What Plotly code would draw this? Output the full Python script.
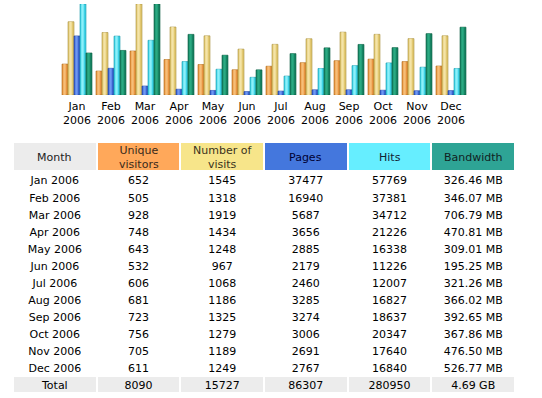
import plotly.graph_objects as go

months = ["Jan", "Feb", "Mar", "Apr", "May", "Jun", "Jul", "Aug", "Sep", "Oct", "Nov", "Dec"]
year = "2006"
visitors = [652, 505, 928, 748, 643, 532, 606, 681, 723, 756, 705, 611]
visits = [1545, 1318, 1919, 1434, 1248, 967, 1068, 1186, 1325, 1279, 1189, 1249]
pages = [37477, 16940, 5687, 3656, 2885, 2179, 2460, 3285, 3274, 3006, 2691, 2767]
hits = [57769, 37381, 34712, 21226, 16338, 11226, 12007, 16827, 18637, 20347, 17640, 16840]
bandwidth_mb = [326.46, 346.07, 706.79, 470.81, 309.01, 195.25, 321.26, 366.02, 392.65, 367.86, 476.50, 526.77]
total_labels = ["Total", "8090", "15727", "86307", "280950", "4.69 GB"]
headers = ["Month", "Unique<br>visitors", "Number of<br>visits", "Pages", "Hits", "Bandwidth"]

W, H = 542, 398
FONT = "DejaVu Sans"
CLEAR = "rgba(0,0,0,0)"

x = list(range(len(months)))
tick_text = [f"{m}<br>{year}" for m in months]

bw = 6 / 34
series = [
    (visitors, "y", "#E89440", "#F6BE78", "#A86818"),
    (visits, "y", "#E2C870", "#F4E4A8", "#A89040"),
    (pages, "y2", "#3A62D0", "#6E98F2", "#203E98"),
    (hits, "y2", "#3ED2E6", "#8CF0FA", "#1898A8"),
    (bandwidth_mb, "y3", "#178463", "#2BAA82", "#0C5A40"),
]

fig = go.Figure()
for i, (vals, ya, base, light, edge) in enumerate(series):
    off = -15 / 34 + i * bw
    fig.add_trace(go.Bar(x=x, y=vals, yaxis=ya, width=bw, offset=off,
                         marker=dict(color=base, line=dict(color=edge, width=0.6)),
                         hoverinfo="skip", showlegend=False))
    fig.add_trace(go.Bar(x=x, y=vals, yaxis=ya, width=bw * 0.4, offset=off + bw * 0.22,
                         marker=dict(color=light, line=dict(width=0)),
                         hoverinfo="skip", showlegend=False))

ydom = [(H - 95) / H, (H - 4) / H]
fig.update_layout(
    width=W, height=H, autosize=False,
    margin=dict(l=0, r=0, t=0, b=0),
    paper_bgcolor="white", plot_bgcolor="white",
    barmode="overlay",
    font=dict(family=FONT, size=11, color="#000000"),
    xaxis=dict(domain=[60 / W, 468 / W], range=[-0.5, 11.5], tickmode="array",
               tickvals=x, ticktext=tick_text, showgrid=False, zeroline=False,
               showline=False, ticks="", ticklabelstandoff=3,
               tickfont=dict(size=11, color="#000000")),
    yaxis=dict(domain=ydom, range=[0, max(visits)], visible=False),
    yaxis2=dict(domain=ydom, range=[0, max(hits)], overlaying="y", visible=False),
    yaxis3=dict(domain=ydom, range=[0, max(bandwidth_mb)], overlaying="y", visible=False),
)

head_fill = ["#ECECEC", "#FFA85A", "#F7E58A", "#4477DD", "#66EEFF", "#2EA495"]
head_font = ["#222222", "#3A2A1A", "#3A3320", "#000033", "#112233", "#112222"]
TX0, TX1 = 13, 515
ROW_H = 17.08
n_rows = len(months) + 1

# background grid of the table: coloured header band and row fills
fig.add_trace(go.Table(
    domain=dict(x=[TX0 / W, TX1 / W], y=[0, 1 - 142 / H]),
    columnwidth=[1] * 6,
    header=dict(values=[""] * len(headers), fill_color=head_fill, height=29,
                line=dict(color="white", width=2)),
    cells=dict(values=[[""] * n_rows for _ in headers],
               fill=dict(color=[["white"] * len(months) + ["#ECECEC"] for _ in headers]),
               height=ROW_H, line=dict(color="white", width=2)),
))
colw = (TX1 - TX0) / len(headers)
for i, (h, fc) in enumerate(zip(headers, head_font)):
    fig.add_annotation(x=(TX0 + (i + 0.5) * colw) / W, y=1 - 157.5 / H, xref="paper", yref="paper",
                       text=h, showarrow=False, xanchor="center", yanchor="middle",
                       font=dict(family=FONT, size=11, color=fc))

col_month = [f"{m} {year}" for m in months] + [total_labels[0]]
col_vis = [str(v) for v in visitors] + [total_labels[1]]
col_visits = [str(v) for v in visits] + [total_labels[2]]
col_pages = [str(v) for v in pages] + [total_labels[3]]
col_hits = [str(v) for v in hits] + [total_labels[4]]
col_bw = [f"{v:.2f} MB" for v in bandwidth_mb] + [total_labels[5]]
cols = [col_month, col_vis, col_visits, col_pages, col_hits, col_bw]

# text layer of the table
fig.add_trace(go.Table(
    domain=dict(x=[TX0 / W, TX1 / W], y=[0, 1 - 152.2 / H]),
    columnwidth=[1] * 6,
    header=dict(values=[], height=16, fill_color=CLEAR, line=dict(color=CLEAR, width=0)),
    cells=dict(values=cols, fill=dict(color=CLEAR), height=ROW_H,
               line=dict(color=CLEAR, width=0), align="center",
               font=dict(family=FONT, size=11, color="#000000")),
))

fig.write_html("out.html", config={"displayModeBar": False},
               post_script="document.body.style.margin='0px';")
